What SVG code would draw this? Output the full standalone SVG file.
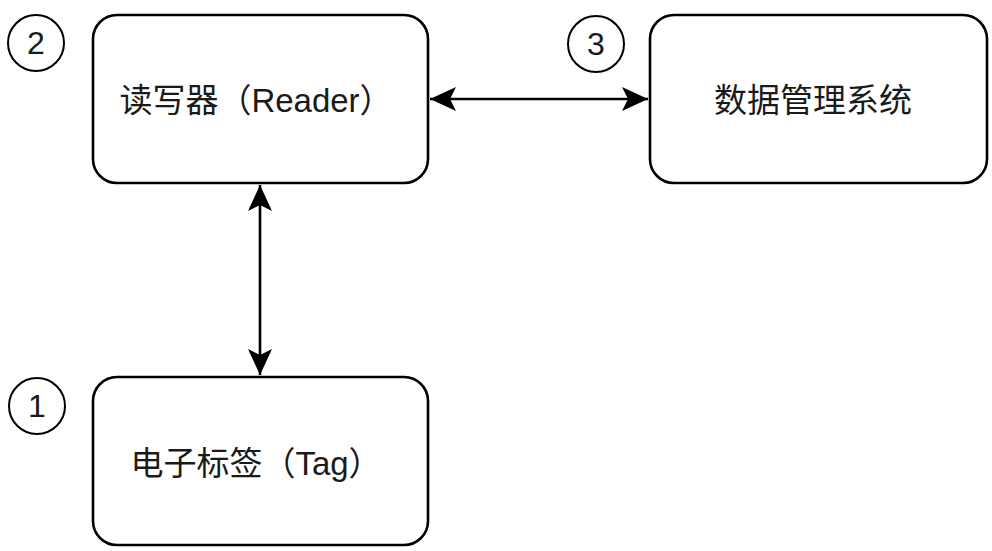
<svg xmlns="http://www.w3.org/2000/svg" width="992" height="551" viewBox="0 0 992 551">
<style>
.box{fill:#fff;stroke:#000;stroke-width:2.6}
.num{fill:#fff;stroke:#000;stroke-width:2}
.lbl{font-family:"Liberation Sans","Noto Sans CJK SC",sans-serif;font-size:33px;fill:#1a1a1a;text-anchor:middle}
.numt{font-family:"Liberation Sans",sans-serif;font-size:32px;fill:#1a1a1a;text-anchor:middle}
.edge{stroke:#000;stroke-width:2.6;fill:none}
</style>
<defs>
<marker id="arr" viewBox="0 0 26 26" markerUnits="userSpaceOnUse" markerWidth="26" markerHeight="26" refX="26" refY="13" orient="auto-start-reverse">
<path d="M0,1 L26,13 L0,25 L6,13 Z" fill="#000"/>
</marker>
</defs>
<g id="connectors">
<line class="edge" x1="430" y1="99" x2="648" y2="99" marker-start="url(#arr)" marker-end="url(#arr)"/>
<line class="edge" x1="260" y1="185" x2="260" y2="375" marker-start="url(#arr)" marker-end="url(#arr)"/>
</g>
<g id="reader">
<rect class="box" x="93" y="15" width="335" height="168" rx="24"/>
<text class="lbl" x="256" y="112">读写器（Reader）</text>
</g>
<g id="dms">
<rect class="box" x="650" y="15" width="337" height="168" rx="24"/>
<text class="lbl" x="813" y="112">数据管理系统</text>
</g>
<g id="tag">
<rect class="box" x="93" y="377" width="335" height="168" rx="24"/>
<text class="lbl" x="256" y="475">电子标签（Tag）</text>
</g>
<g id="num2">
<circle class="num" cx="36" cy="43" r="28"/>
<text class="numt" x="36" y="54">2</text>
</g>
<g id="num3">
<circle class="num" cx="596" cy="44" r="28"/>
<text class="numt" x="596" y="55">3</text>
</g>
<g id="num1">
<circle class="num" cx="37" cy="406" r="28"/>
<text class="numt" x="37" y="417">1</text>
</g>
</svg>
